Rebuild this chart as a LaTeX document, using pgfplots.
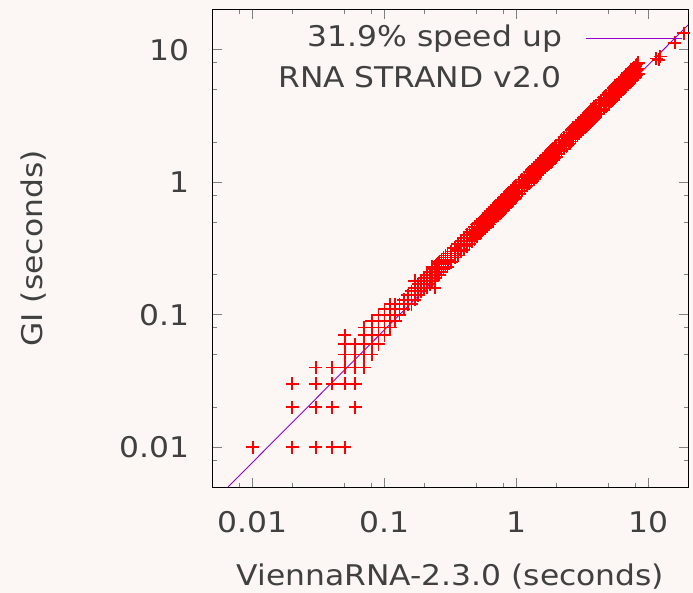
\documentclass[border=0pt]{standalone}
\usepackage{pgfplots}
\pgfplotsset{compat=1.18}
\usepackage{fontspec}
\setmainfont{DejaVu Sans}[FakeStretch=1.1, Color=404040]
\definecolor{bg}{RGB}{252,246,244}
\definecolor{gnuviolet}{RGB}{148,0,211}
\pgfplotsset{longline/.style={legend image code/.code={\draw[##1] (0pt,0pt) -- (96pt,0pt);}}}

\begin{document}
\begin{tikzpicture}[font=\fontsize{28.5}{34}\selectfont]
\path[fill=bg, use as bounding box] (-213pt,-106pt) rectangle (480pt,487pt);
\begin{axis}[
    at={(0,0)}, anchor=south west,
    scale only axis, width=475pt, height=477pt,
    xmode=log, ymode=log,
    xmin=0.005, xmax=20, ymin=0.005, ymax=20,
    xtick={0.01,0.1,1,10}, xticklabels={0.01,0.1,1,10},
    ytick={0.01,0.1,1,10}, yticklabels={0.01,0.1,1,10},
    minor xtick={0.008,0.02,0.05,0.08,0.2,0.5,0.8,2,5,8},
    minor ytick={0.008,0.02,0.05,0.08,0.2,0.5,0.8,2,5,8},
    tick align=inside, major tick length=9pt, minor tick length=4.5pt,
    tick style={line width=0.9pt},
    axis line style={line width=1pt},
    /pgf/number format/assume math mode=true,
    xticklabel style={anchor=base, yshift=-45pt},
    yticklabel style={anchor=east, xshift=-20pt},
    xlabel={ViennaRNA-2.3.0 (seconds)},
    ylabel={GI (seconds)},
    xlabel style={at={(axis description cs:0.5,-0.2075)}, anchor=base},
    ylabel style={at={(axis description cs:-0.358,0.5)}, anchor=base},
    legend style={draw=none, fill=none, at={(0.9895,0.9706)}, anchor=north east,
        inner sep=0pt, column sep=24pt, row sep=12pt,
        nodes={inner sep=0pt, text height=22pt, text depth=7pt}},
    legend plot pos=right, legend cell align=right,
]

% purple reference line
\addplot[draw=gnuviolet, line width=0.9pt, longline]
    coordinates {(0.0065,0.005) (20,15.4)};
\addlegendentry{31.9\% speed up}
\addlegendimage{empty legend}
\addlegendentry{RNA STRAND v2.0}

% timings
\addplot[only marks, mark=+, mark size=6.5pt,
    mark options={draw=red, line width=1.8pt}, forget plot]
    coordinates {
    (0.01,0.01)(0.02,0.01)(0.03,0.01)(0.04,0.01)(0.05,0.01)
    (0.02,0.02)(0.03,0.02)(0.04,0.02)(0.06,0.02)
    (0.02,0.03)(0.03,0.03)(0.04,0.03)(0.05,0.03)(0.06,0.03)
    (0.03,0.04)(0.04,0.04)(0.05,0.04)(0.06,0.04)(0.07,0.04)
    (0.05,0.05)(0.06,0.05)(0.07,0.05)(0.08,0.05)
    (0.05,0.06)(0.06,0.06)(0.07,0.06)(0.08,0.06)(0.09,0.06)
    (0.05,0.07)(0.07,0.07)(0.08,0.07)(0.09,0.07)(0.10,0.07)
    (0.07,0.08)(0.08,0.08)(0.09,0.08)(0.10,0.08)(0.11,0.08)
    (0.08,0.09)(0.09,0.09)(0.10,0.09)(0.11,0.09)
    (0.09,0.10)(0.10,0.10)(0.11,0.10)(0.12,0.10)
    (0.10,0.11)(0.11,0.11)(0.12,0.11)(0.13,0.11)
    (0.11,0.12)(0.12,0.12)(0.13,0.12)
    (0.17,0.18)(0.23,0.23)(0.24,0.16)
    (0.12,0.09)(0.13,0.10)
    (0.14,0.11)(0.14,0.12)(0.14,0.13)
    (0.15,0.12)(0.15,0.13)(0.15,0.14)
    (0.16,0.12)(0.16,0.14)(0.16,0.15)
    (0.17,0.13)(0.17,0.15)(0.17,0.16)
    (0.18,0.14)(0.18,0.15)(0.18,0.17)
    (0.19,0.15)(0.19,0.16)(0.19,0.18)
    (0.20,0.16)(0.20,0.17)(0.20,0.19)
    (0.21,0.16)(0.21,0.18)(0.21,0.20)
    (0.22,0.17)(0.22,0.19)(0.22,0.21)
    (0.23,0.18)(0.23,0.20)(0.23,0.22)
    (0.24,0.19)(0.24,0.21)(0.24,0.23)
    (0.25,0.20)(0.25,0.22)(0.25,0.24)
    (0.26,0.20)(0.26,0.22)(0.26,0.25)
    (0.27,0.21)(0.27,0.23)(0.27,0.26)
    (0.28,0.22)(0.28,0.24)(0.28,0.27)
    (0.29,0.23)(0.29,0.25)(0.29,0.28)
    (0.30,0.23)(0.30,0.26)(0.30,0.29)
    (0.32,0.25)(0.32,0.28)(0.32,0.30)
    (0.34,0.27)(0.34,0.29)(0.34,0.32)
    (0.36,0.28)(0.36,0.31)(0.36,0.34)
    (0.38,0.30)(0.38,0.33)(0.38,0.36)
    (0.40,0.31)(0.40,0.34)(0.40,0.38)
    (0.42,0.33)(0.42,0.36)(0.42,0.40)
    (0.44,0.34)(0.44,0.38)(0.44,0.42)
    (0.46,0.36)(0.46,0.40)(0.46,0.44)
    (0.48,0.37)(0.48,0.41)(0.48,0.46)
    (0.50,0.39)(0.50,0.43)(0.50,0.48)
    (0.52,0.41)(0.52,0.45)(0.52,0.49)
    (0.54,0.42)(0.54,0.46)(0.54,0.51)
    (0.56,0.44)(0.56,0.48)(0.56,0.53)
    (0.58,0.45)(0.58,0.50)(0.58,0.55)
    (0.60,0.47)(0.60,0.52)(0.60,0.57)
    (0.62,0.48)(0.62,0.53)(0.62,0.59)
    (0.64,0.50)(0.64,0.55)(0.64,0.61)
    (0.66,0.51)(0.66,0.57)(0.66,0.63)
    (0.68,0.53)(0.68,0.58)(0.68,0.65)
    (0.70,0.55)(0.70,0.60)(0.70,0.67)
    (0.72,0.56)(0.72,0.62)(0.72,0.68)
    (0.74,0.58)(0.74,0.64)(0.74,0.70)
    (0.76,0.59)(0.76,0.65)(0.76,0.72)
    (0.78,0.61)(0.78,0.67)(0.78,0.74)
    (0.80,0.62)(0.80,0.69)(0.80,0.76)
    (0.82,0.64)(0.82,0.71)(0.82,0.78)
    (0.84,0.66)(0.84,0.72)(0.84,0.80)
    (0.86,0.67)(0.86,0.74)(0.86,0.82)
    (0.88,0.69)(0.88,0.76)(0.88,0.84)
    (0.90,0.70)(0.90,0.77)(0.90,0.86)
    (0.92,0.72)(0.92,0.79)(0.92,0.87)
    (0.94,0.73)(0.94,0.81)(0.94,0.89)
    (0.96,0.75)(0.96,0.83)(0.96,0.91)
    (0.98,0.76)(0.98,0.84)(0.98,0.93)
    (1.00,0.78)(1.00,0.86)(1.00,0.95)
    (1.05,0.82)(1.05,0.90)(1.05,1.00)
    (1.10,0.86)(1.10,0.95)(1.10,1.05)
    (1.15,0.90)(1.15,0.99)(1.15,1.09)
    (1.20,0.94)(1.20,1.03)(1.20,1.14)
    (1.25,0.98)(1.25,1.08)(1.25,1.19)
    (1.30,1.01)(1.30,1.12)(1.30,1.24)
    (1.35,1.05)(1.35,1.16)(1.35,1.28)
    (1.40,1.09)(1.40,1.20)(1.40,1.33)
    (1.45,1.13)(1.45,1.25)(1.45,1.38)
    (1.50,1.17)(1.50,1.29)(1.50,1.43)
    (1.55,1.21)(1.55,1.33)(1.55,1.47)
    (1.60,1.25)(1.60,1.38)(1.60,1.52)
    (1.65,1.29)(1.65,1.42)(1.65,1.57)
    (1.70,1.33)(1.70,1.46)(1.70,1.62)
    (1.75,1.37)(1.75,1.51)(1.75,1.66)
    (1.80,1.40)(1.80,1.55)(1.80,1.71)
    (1.85,1.44)(1.85,1.59)(1.85,1.76)
    (1.90,1.48)(1.90,1.63)(1.90,1.81)
    (1.95,1.52)(1.95,1.68)(1.95,1.85)
    (2.00,1.56)(2.00,1.72)(2.00,1.90)
    (2.1,1.64)(2.1,1.81)(2.1,2.00)
    (2.2,1.72)(2.2,1.89)(2.2,2.09)
    (2.3,1.79)(2.3,1.98)(2.3,2.19)
    (2.4,1.87)(2.4,2.06)(2.4,2.28)
    (2.5,1.95)(2.5,2.15)(2.5,2.38)
    (2.6,2.03)(2.6,2.24)(2.6,2.47)
    (2.7,2.11)(2.7,2.32)(2.7,2.57)
    (2.8,2.18)(2.8,2.41)(2.8,2.66)
    (2.9,2.26)(2.9,2.49)(2.9,2.76)
    (3.0,2.34)(3.0,2.58)(3.0,2.85)
    (3.1,2.42)(3.1,2.67)(3.1,2.95)
    (3.2,2.50)(3.2,2.75)(3.2,3.04)
    (3.3,2.57)(3.3,2.84)(3.3,3.14)
    (3.4,2.65)(3.4,2.92)(3.4,3.23)
    (3.5,2.73)(3.5,3.01)(3.5,3.33)
    (3.6,2.81)(3.6,3.10)(3.6,3.42)
    (3.7,2.89)(3.7,3.18)(3.7,3.52)
    (3.8,2.96)(3.8,3.27)(3.8,3.61)
    (3.9,3.04)(3.9,3.35)(3.9,3.71)
    (4.0,3.12)(4.0,3.44)(4.0,3.80)
    (4.2,3.28)(4.2,3.61)(4.2,3.99)
    (4.4,3.43)(4.4,3.78)(4.4,4.18)
    (4.6,3.59)(4.6,3.96)(4.6,4.37)
    (4.8,3.74)(4.8,4.13)(4.8,4.56)
    (5.0,3.90)(5.0,4.30)(5.0,4.75)
    (5.2,4.06)(5.2,4.47)(5.2,4.94)
    (5.4,4.21)(5.4,4.64)(5.4,5.13)
    (5.6,4.37)(5.6,4.82)(5.6,5.32)
    (5.8,4.52)(5.8,4.99)(5.8,5.51)
    (6.0,4.68)(6.0,5.16)(6.0,5.70)
    (6.2,4.84)(6.2,5.33)(6.2,5.89)
    (6.4,4.99)(6.4,5.50)(6.4,6.08)
    (6.6,5.15)(6.6,5.68)(6.6,6.27)
    (6.8,5.30)(6.8,5.85)(6.8,6.46)
    (7.0,5.46)(7.0,6.02)(7.0,6.65)
    (7.2,5.62)(7.2,6.19)(7.2,6.84)
    (7.4,5.77)(7.4,6.36)(7.4,7.03)
    (7.6,5.93)(7.6,6.54)(7.6,7.22)
    (7.8,6.08)(7.8,6.71)(7.8,7.41)
    (8.0,6.24)(8.0,6.88)(8.0,7.60)
    (8.2,6.40)(8.2,7.05)(8.2,7.79)
    (8.4,6.55)(8.4,7.22)(8.4,7.98)
    (3.6,3.4)(11.5,8.6)(12.0,8.4)(12.3,8.9)(15.9,11.3)(18.6,13.4)
    };
\end{axis}
\end{tikzpicture}
\end{document}
